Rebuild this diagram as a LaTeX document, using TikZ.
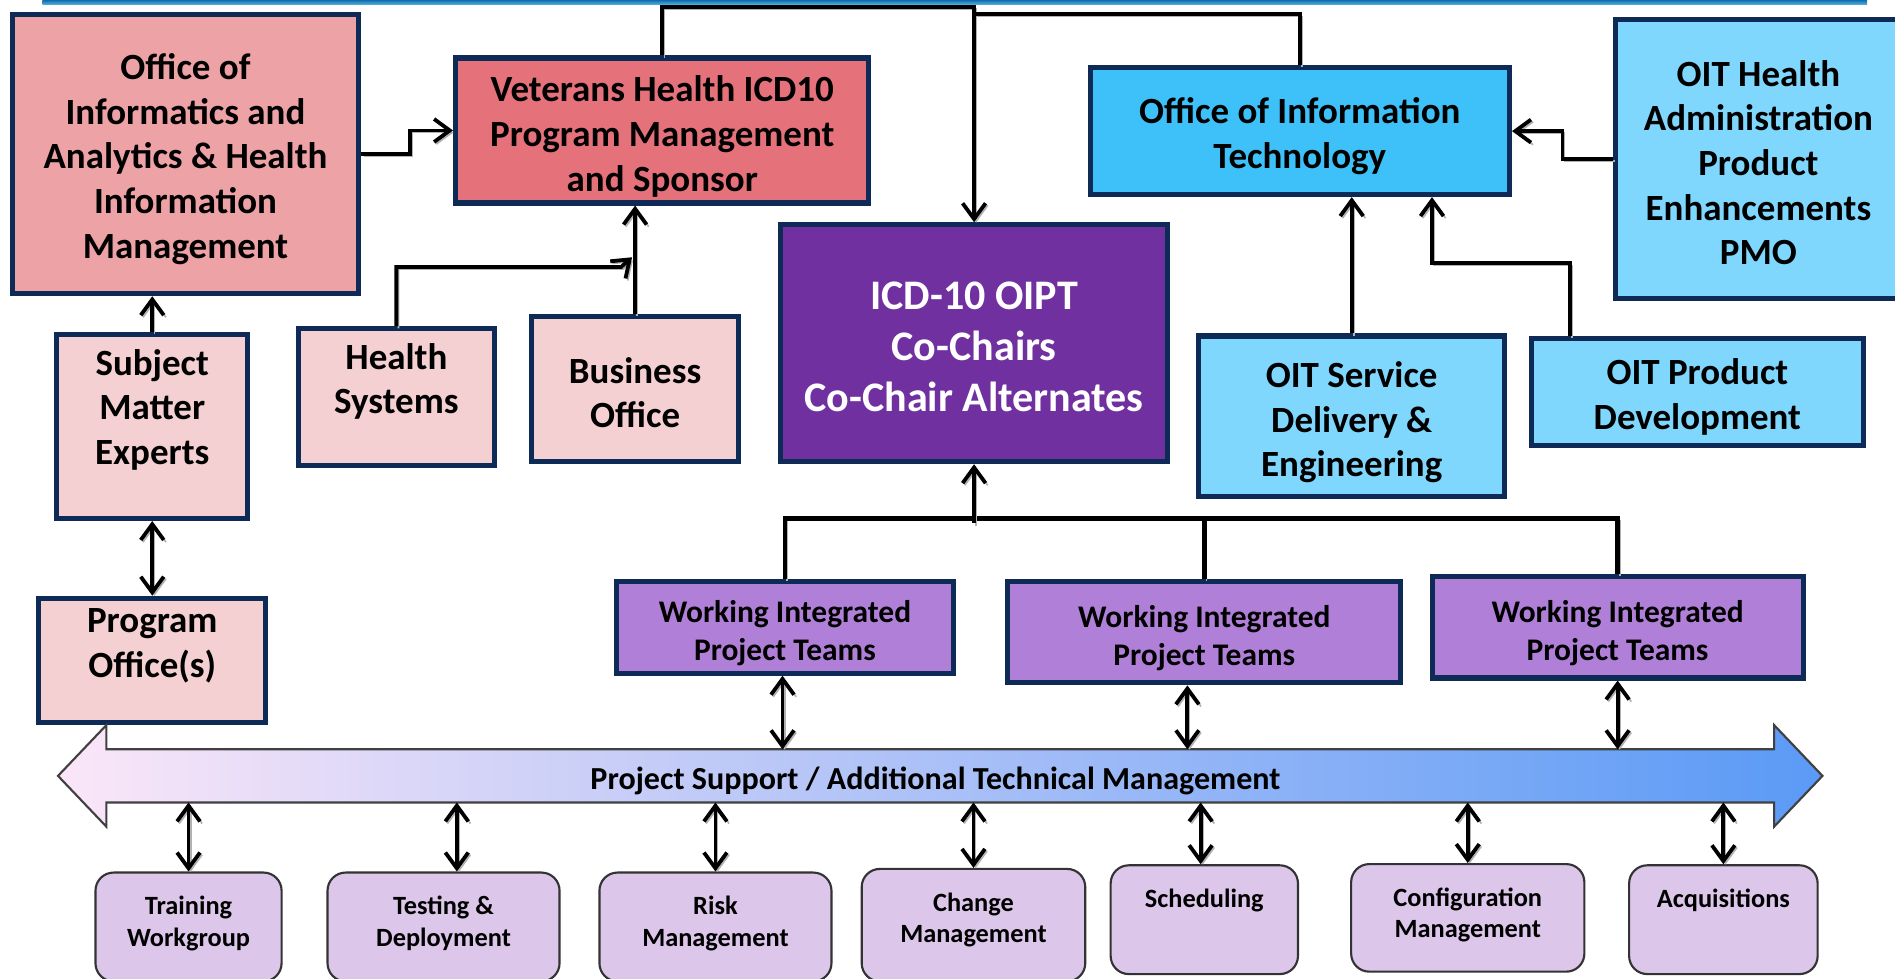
\documentclass[tikz,border=0pt]{standalone}
\usepackage{fontspec}
\setmainfont{Carlito}
\usetikzlibrary{arrows.meta,calc,fit}
\definecolor{navy}{HTML}{0D2B56}
\definecolor{pinkA}{HTML}{EDA2A6}
\definecolor{redB}{HTML}{E5727A}
\definecolor{palepink}{HTML}{F4D0D3}
\definecolor{purpC}{HTML}{7030A0}
\definecolor{blueD}{HTML}{3DC1F8}
\definecolor{lightblue}{HTML}{80D7FD}
\definecolor{wiptc}{HTML}{B07FD8}
\definecolor{lilac}{HTML}{DCC6EA}
\definecolor{psleft}{HTML}{FBE6F8}
\definecolor{psright}{HTML}{5A9AF6}
\definecolor{bandtop}{HTML}{0E6DAE}
\definecolor{bandbot}{HTML}{5AB4E0}
\newcommand\fntA{\bfseries\fontsize{8.7}{10.5}\selectfont}
\newcommand\fntC{\bfseries\fontsize{9.9}{12}\selectfont}
\newcommand\fntW{\bfseries\fontsize{7.4}{9.1}\selectfont}
\newcommand\fntP{\bfseries\fontsize{7.55}{9}\selectfont}
\newcommand\fntS{\bfseries\fontsize{6.2}{7.4}\selectfont}
\tikzset{
  box/.style={draw=navy, line width=1.2pt, inner sep=0pt},
  sbox/.style={draw=black!80, line width=0.5pt, fill=lilac, rounded corners=1.5mm, inner sep=0pt},
  lbl/.style={font=\fntA, align=center, inner sep=0pt},
  clbl/.style={font=\fntC, align=center, inner sep=0pt, text=white},
  wlbl/.style={font=\fntW, align=center, inner sep=0pt},
  slbl/.style={font=\fntS, align=center, inner sep=0pt},
  barb/.tip={Straight Barb[length=1.3mm,width=1.9mm]},
  shadowed/.style={preaction={draw=black!30, transform canvas={xshift=0.5pt,yshift=-0.5pt}}},
  conn/.style={draw=black, line width=0.9pt, -barb, shadowed},
  dconn/.style={draw=black, line width=0.9pt, barb-barb, shadowed},
  plain/.style={draw=black, line width=0.9pt, shadowed},
  bus/.style={draw=black, line width=1.1pt, shadowed},
}
\begin{document}
\begin{tikzpicture}[x=0.01cm,y=-0.01cm]
\useasboundingbox (0,0) rectangle (1568,810);
\clip (0,0) rectangle (1568,810);
% top band
\shade[top color=bandtop, bottom color=bandbot] (35,0) rectangle (1545,4);

% boxes
\node[box, fill=pinkA, fit={(10,12) (297,243)}] (oia) {};
\node[lbl] at ($(oia.center)+(0,4)$) {Office of\\Informatics and\\Analytics \& Health\\Information\\Management};

\node[box, fill=redB, fit={(377,48) (719,168)}] (vh) {};
\node[lbl] at ($(vh.center)+(0,5)$) {Veterans Health ICD10\\Program Management\\and Sponsor};

\node[box, fill=purpC, fit={(646,186) (966,382)}] (oipt) {};
\node[clbl] at ($(oipt.center)+(0,3)$) {ICD-10 OIPT\\Co-Chairs\\Co-Chair Alternates};

\node[box, fill=blueD, fit={(902,56) (1249,161)}] (oit) {};
\node[lbl] at ($(oit.center)+(0,4)$) {Office of Information\\Technology};

\node[box, fill=lightblue, fit={(1337,16) (1573,247)}] (pmo) {};
\node[lbl] at ($(pmo.center)+(0,3)$) {OIT Health\\Administration\\Product\\Enhancements\\PMO};

\node[box, fill=palepink, fit={(47,277) (205,429)}] (sme) {};
\node[lbl] at ($(sme.center)+(0,-14)$) {Subject\\Matter\\Experts};

\node[box, fill=palepink, fit={(247,272) (409,385)}] (hs) {};
\node[lbl] at ($(hs.center)+(0,-13)$) {Health\\Systems};

\node[box, fill=palepink, fit={(440,262) (611,382)}] (bo) {};
\node[lbl] at ($(bo.center)+(0,3)$) {Business\\Office};

\node[box, fill=palepink, fit={(32,495) (220,598)}] (po) {};
\node[lbl] at ($(po.center)+(0,-12)$) {Program\\Office(s)};

\node[box, fill=lightblue, fit={(992,278) (1245,411)}] (sde) {};
\node[lbl] at ($(sde.center)+(0,5)$) {OIT Service\\Delivery \&\\Engineering};

\node[box, fill=lightblue, fit={(1267,280) (1542,369)}] (pd) {};
\node[lbl] at ($(pd.center)+(0,4)$) {OIT Product\\Development};

\node[box, fill=wiptc, fit={(510,481) (789,557)}] (w1) {};
\node[wlbl] at ($(w1.center)+(0,5)$) {Working Integrated\\Project Teams};
\node[box, fill=wiptc, fit={(834,481) (1159,565)}] (w2) {};
\node[wlbl] at ($(w2.center)+(0,5)$) {Working Integrated\\Project Teams};
\node[box, fill=wiptc, fit={(1185,477) (1492,561)}] (w3) {};
\node[wlbl] at ($(w3.center)+(0,5)$) {Working Integrated\\Project Teams};

% big double arrow
\shade[left color=psleft, right color=psright, draw=black!75, line width=0.5pt]
  (48,642) -- (88,600) -- (88,620) -- (1468,620) -- (1468,600) -- (1508,642)
  -- (1468,684) -- (1468,664) -- (88,664) -- (88,684) -- cycle;
\coordinate (pstop) at (0,620);
\coordinate (psbot) at (0,664);
\node[font=\fntP, inner sep=0pt] (ps) at (774,646) {Project Support / Additional Technical Management};

% bottom boxes
\node[sbox, fit={(79,722) (233,812)}] (b1) {};
\node[slbl] at ($(b1.north)+(0,43)$) {Training\\Workgroup};
\node[sbox, fit={(271,722) (463,812)}] (b2) {};
\node[slbl] at ($(b2.north)+(0,43)$) {Testing \&\\Deployment};
\node[sbox, fit={(496,722) (688,812)}] (b3) {};
\node[slbl] at ($(b3.north)+(0,43)$) {Risk\\Management};
\node[sbox, fit={(713,719) (898,812)}] (b4) {};
\node[slbl] at ($(b4.north)+(0,43)$) {Change\\Management};
\node[sbox, fit={(919,716) (1074,806)}] (b5) {};
\node[slbl] at ($(b5.north)+(0,30)$) {Scheduling};
\node[sbox, fit={(1118,715) (1311,804)}] (b6) {};
\node[slbl] at ($(b6.north)+(0,43)$) {Configuration\\Management};
\node[sbox, fit={(1348,716) (1504,806)}] (b7) {};
\node[slbl] at ($(b7.north)+(0,30)$) {Acquisitions};

% connectors
\draw[conn] (oia.east) -- ++(40,0) |- (vh.west);
\draw[conn] (vh.north) -- ++(0,-40) -| (oipt.north);
\draw[plain] (oit.north) |- ($(oipt.north)+(0,-172)$);
\draw[conn] (pmo.west) -- ++(-42,0) |- (oit.east);
\draw[conn] (sde.north) -- (sde.north |- oit.south);
\draw[conn] ($(pd.north west)+(34,0)$) -- ++(0,-60) -| ($(oit.south west)+(285,0)$);
\draw[conn] (sme.north) -- (sme.north |- oia.south);
\draw[dconn] (sme.south) -- (po.north);
\draw[conn] (hs.north) -- ++(0,-49) -- ++(186,0) -- ++(9,-8);
\draw[conn] (bo.north) -- (bo.north |- vh.south);

\draw[bus] (w1.north) -- ++(0,-50) -| (w3.north);
\draw[bus] (w2.north) -- ++(0,-50);
\draw[conn] ($(oipt.south)+(0,49)$) -- (oipt.south);

\coordinate (w1a) at ($(w1.south)+(-2,0)$);
\coordinate (w2a) at ($(w2.south)+(-14,0)$);
\coordinate (w3a) at ($(w3.south)+(0,0)$);
\draw[dconn] (w1a) -- (w1a |- pstop);
\draw[dconn] (w2a) -- (w2a |- pstop);
\draw[dconn] (w3a) -- (w3a |- pstop);

\coordinate (b2a) at ($(b2.north)+(11,0)$);
\coordinate (b5a) at ($(b5.north)+(-3,0)$);
\draw[dconn] (b1.north |- psbot) -- (b1.north);
\draw[dconn] (b2a |- psbot) -- (b2a);
\draw[dconn] (b3.north |- psbot) -- (b3.north);
\draw[dconn] (b4.north |- psbot) -- (b4.north);
\draw[dconn] (b5a |- psbot) -- (b5a);
\draw[dconn] (b6.north |- psbot) -- (b6.north);
\draw[dconn] (b7.north |- psbot) -- (b7.north);
\end{tikzpicture}
\end{document}
